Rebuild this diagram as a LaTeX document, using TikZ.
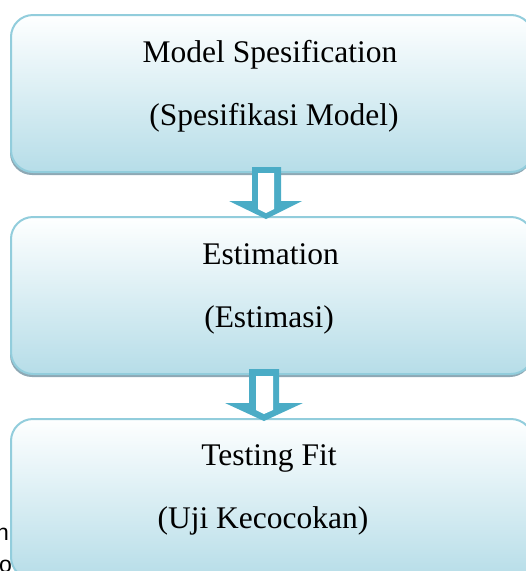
\documentclass[tikz,border=0pt]{standalone}
\usepackage{fontspec}
\setmainfont{Liberation Serif}
\newfontfamily\arialfont{Liberation Sans}
\definecolor{boxedge}{HTML}{92CDDC}
\definecolor{boxtop}{HTML}{FEFFFF}
\definecolor{boxbot}{HTML}{B6DDE8}
\definecolor{shade}{HTML}{8EA8B4}
\definecolor{arrowc}{HTML}{4BACC6}
\tikzset{
  x=1pt, y=-1pt,
  stagebox/.style={draw=boxedge, line width=2pt, rounded corners=22pt,
    top color=boxtop, bottom color=boxbot, minimum width=522pt,
    inner sep=0pt},
  stageshadow/.style={fill=shade, rounded corners=22pt},
  stagetext/.style={font=\fontsize{31.5}{36}\selectfont, anchor=base, inner sep=0pt},
  pagetext/.style={font=\arialfont\fontsize{23}{26}\selectfont, anchor=base east, inner sep=0pt},
  arrowbody/.style={fill=arrowc},
  arrowhole/.style={fill=white},
}
\begin{document}
\begin{tikzpicture}
\useasboundingbox (0,0) rectangle (526,571);
\clip (0,0) rectangle (526,571);

% fragments of surrounding page text
\node[pagetext] (frag1) at (9,540) {n};
\node[pagetext] (frag2) at (12,572) {oo};

% drop shadows
\fill[stageshadow] (10,18) rectangle (532,175);
\fill[stageshadow] (10,220) rectangle (532,377);

% the three stages
\node[stagebox, minimum height=157pt, anchor=north west] (spec) at (10,14) {};
\node[stagebox, minimum height=157pt, anchor=north west] (est) at (10,216) {};
\node[stagebox, minimum height=160pt, anchor=north west] (test) at (10,418) {};

\node[stagetext] (specA) at (270,62) {Model Spesification};
\node[stagetext] (specB) at (274,125) {(Spesifikasi Model)};
\node[stagetext] (estA) at (270.5,264) {Estimation};
\node[stagetext] (estB) at (269,327) {(Estimasi)};
\node[stagetext] (testA) at (269,465.5) {Testing Fit};
\node[stagetext] (testB) at (263,528.5) {(Uji Kecocokan)};

% hollow block arrows between stages
\fill[arrowbody] (252,167) -- (252,201) -- (229,201) -- (266,219) -- (302,201)
  -- (281,201) -- (281,167) -- cycle;
\fill[arrowhole] (258,173) -- (258,209) -- (266,213) -- (274,209) -- (274,173) -- cycle;

\fill[arrowbody] (249,369) -- (249,403) -- (225,403) -- (264,421) -- (303,403)
  -- (279,403) -- (279,369) -- cycle;
\fill[arrowhole] (256,376) -- (256,410) -- (264,414) -- (273,410) -- (273,376) -- cycle;
\end{tikzpicture}
\end{document}
